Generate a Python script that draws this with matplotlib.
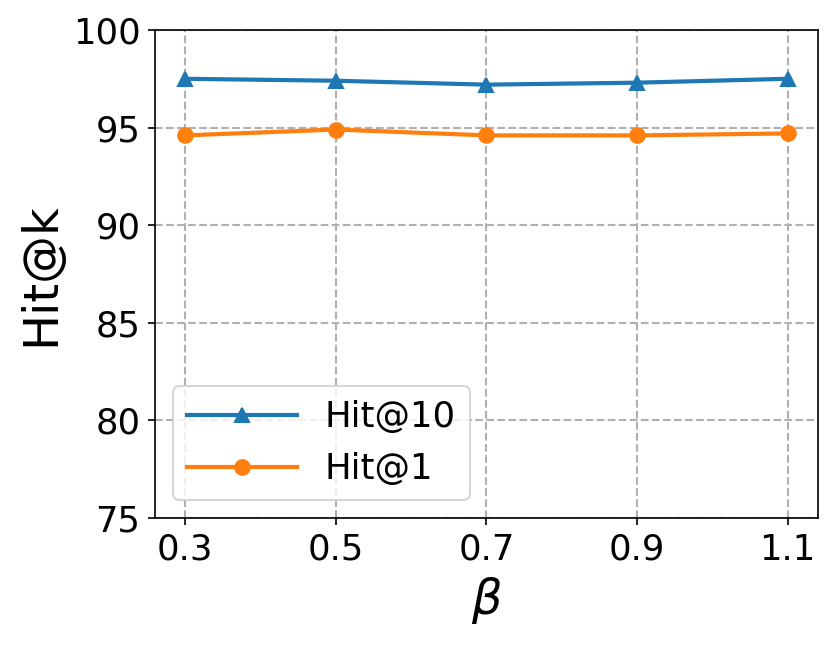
import matplotlib
matplotlib.use('Agg')
import matplotlib.pyplot as plt

beta = [0.3, 0.5, 0.7, 0.9, 1.1]
hit10 = [97.5, 97.4, 97.2, 97.3, 97.5]
hit1 = [94.6, 94.9, 94.6, 94.6, 94.7]
tick_labels = ['0.3', '0.5', '0.7', '0.9', '1.1']

fig = plt.figure(figsize=(8.31 / 1.5, 6.45 / 1.5), dpi=150)
ax = fig.add_axes([0.1865, 0.197, 0.7975, 0.7565])

ax.plot(beta, hit10, marker='^', markersize=7, linewidth=2, label='Hit@10')
ax.plot(beta, hit1, marker='o', markersize=7, linewidth=2, label='Hit@1')

ax.set_ylim(75, 100)
ax.set_xticks(beta)
ax.set_xticklabels(tick_labels)
ax.tick_params(labelsize=17)
ax.set_xlabel(r'$\beta$', fontsize=23)
ax.set_ylabel('Hit@k', fontsize=23)
ax.grid(True, linestyle='--', color='#b0b0b0', linewidth=1)
ax.set_axisbelow(True)
ax.legend(loc='lower left', fontsize=17, handlelength=3.1)

fig.savefig('out.png', dpi=150)
